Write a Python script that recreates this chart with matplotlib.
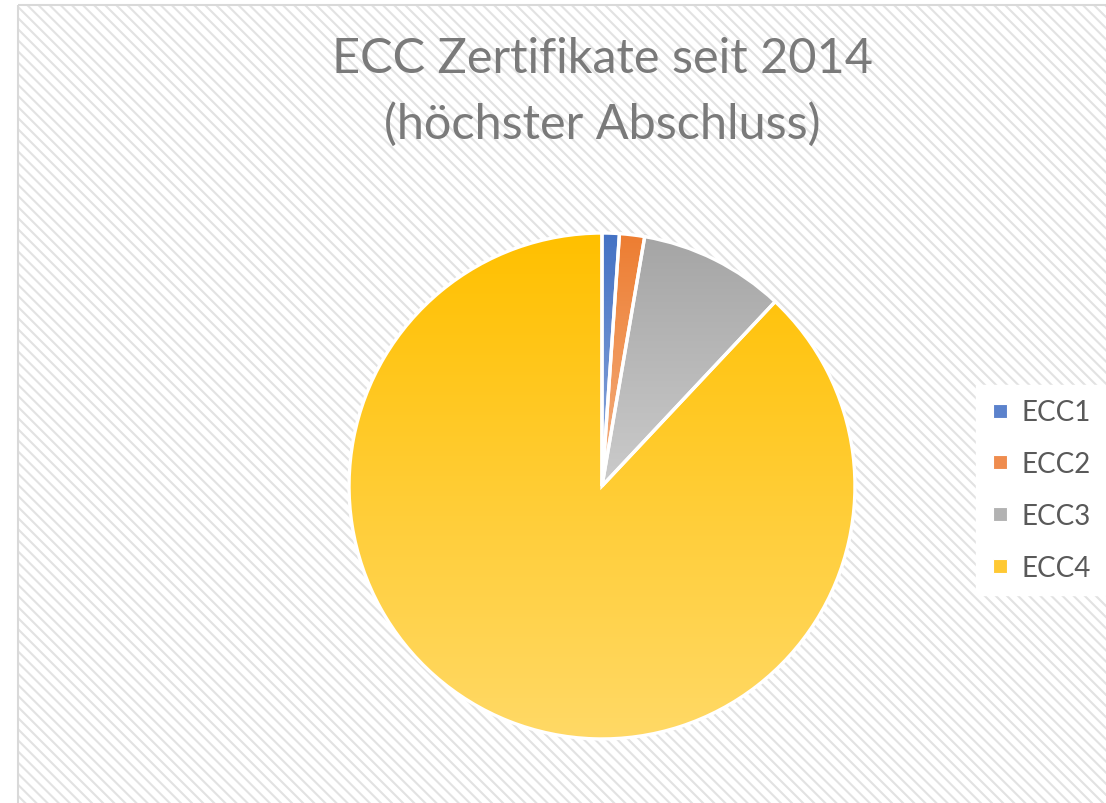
import matplotlib
matplotlib.use("Agg")
import matplotlib.pyplot as plt
import numpy as np
from matplotlib.patches import Rectangle
from matplotlib.colors import LinearSegmentedColormap
from matplotlib.lines import Line2D

# ---- data ----
labels = ["ECC1", "ECC2", "ECC3", "ECC4"]
values = [1.1, 1.6, 9.3, 88.0]
top_colors = ["#4472C4", "#ED7D31", "#A5A5A5", "#FFC000"]
bottom_colors = ["#8FAADC", "#F4B183", "#CBCBCB", "#FFD966"]
legend_colors = ["#5B82CC", "#EF8C4E", "#B2B2B2", "#FFC933"]
title = "ECC Zertifikate seit 2014\n(höchster Abschluss)"

W, H = 1106, 804
plt.rcParams['font.family'] = ['Lato', 'DejaVu Sans']
plt.rcParams['hatch.linewidth'] = 1.5
plt.rcParams['hatch.color'] = '#E2E2E2'

fig = plt.figure(figsize=(W / 100, H / 100), dpi=100)
fig.patch.set_facecolor('white')

# background chart area with diagonal hatch
bg = fig.add_axes([0, 0, 1, 1])
bg.set_xlim(0, W)
bg.set_ylim(H, 0)
bg.axis('off')
bg.add_patch(Rectangle((17.5, 5.5), W + 20, H + 20, facecolor='white',
                       edgecolor='#E2E2E2', hatch='\\\\\\', linewidth=0))
bg.add_patch(Rectangle((17.5, 5.5), W + 20, H + 20, facecolor='none',
                       edgecolor='#D9D9D9', linewidth=1.5))

# pie axes
cx, cy, r = 602, 487, 256
ax = fig.add_axes([(cx - r) / W, (H - cy - r) / H, 2 * r / W, 2 * r / H])
ax.set_aspect('equal')
ax.axis('off')

wedges, _ = ax.pie(values, startangle=90, counterclock=False, radius=1.0,
                   colors=legend_colors,
                   wedgeprops=dict(edgecolor='white', linewidth=2.4))
for w, c0, c1 in zip(wedges, top_colors, bottom_colors):
    p = w.get_patch_transform().transform_path(w.get_path())
    ext = p.get_extents()
    cmap = LinearSegmentedColormap.from_list('g', [c1, c0])
    grad = np.linspace(0, 1, 256).reshape(-1, 1)
    im = ax.imshow(grad, cmap=cmap, origin='lower', aspect='auto',
                   extent=[ext.x0, ext.x1, ext.y0, ext.y1], zorder=w.get_zorder() - 0.01,
                   interpolation='bilinear')
    im.set_clip_path(w)
    w.set_facecolor('none')
ax.set_xlim(-1.012, 1.012)
ax.set_ylim(-1.012, 1.012)

# title
t = fig.text(cx / W, 1 - 92 / H, title, ha='center', va='center',
             fontsize=32, color='#7A7A7A', linespacing=1.55)
fig.canvas.draw()
renderer = fig.canvas.get_renderer()
line1 = fig.text(0, 0, title.split("\n")[0], fontsize=32)
wpx = line1.get_window_extent(renderer).width
line1.remove()
t.set_fontsize(32 * 543 / wpx)

# legend
handles = [Line2D([0], [0], marker='s', linestyle='none', markersize=9.5,
                  markerfacecolor=c, markeredgecolor='white', markeredgewidth=0.8)
           for c in legend_colors]
leg = fig.legend(handles, labels, loc='center left',
                 bbox_to_anchor=(976 / W, 1 - 491 / H), frameon=True,
                 fontsize=20, labelcolor='#595959', handlelength=0.7,
                 handletextpad=0.45, labelspacing=0.93, borderpad=0.5,
                 borderaxespad=0)
leg.get_frame().set_facecolor('white')
leg.get_frame().set_edgecolor('white')
leg.get_frame().set_alpha(1)
leg.get_frame().set_boxstyle('square', pad=0)

fig.savefig('out.png', dpi=100)
